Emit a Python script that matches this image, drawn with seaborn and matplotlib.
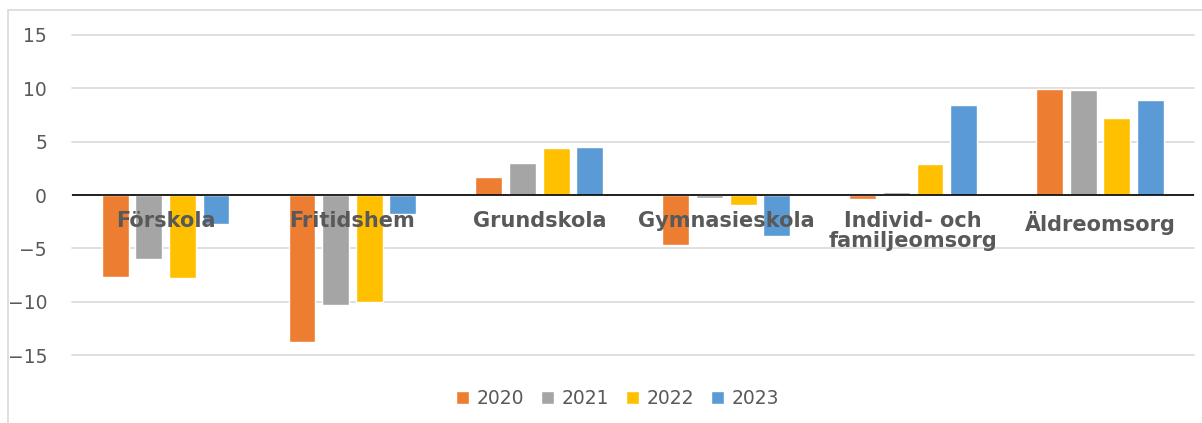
import pandas as pd
import seaborn as sns
import matplotlib.pyplot as plt
from matplotlib.patches import Rectangle

# data
categories = ['Förskola', 'Fritidshem', 'Grundskola', 'Gymnasieskola',
              'Individ- och\nfamiljeomsorg', 'Äldreomsorg']
years = ['2020', '2021', '2022', '2023']
v2020 = [-7.7, -13.8, 1.7, -4.65, -0.35, 9.95]
v2021 = [-6.0, -10.3, 2.95, -0.25, 0.3, 9.85]
v2022 = [-7.8, -10.0, 4.4, -0.95, 2.9, 7.2]
v2023 = [-2.7, -1.8, 4.5, -3.85, 8.4, 8.9]
colors = ['#ED7D31', '#A5A5A5', '#FFC000', '#5B9BD5']

rows = []
for year, vals in zip(years, [v2020, v2021, v2022, v2023]):
    for cat, v in zip(categories, vals):
        rows.append({'kategori': cat, 'år': year, 'värde': v})
df = pd.DataFrame(rows)

sns.set_style('white')
plt.rcParams['font.family'] = ['DejaVu Sans']

fig = plt.figure(figsize=(12.02, 4.23), dpi=100)
ax = fig.add_axes([0.06, 0.16, 0.933, 0.758])

sns.barplot(data=df, x='kategori', y='värde', hue='år', palette=colors,
            order=categories, hue_order=years, width=0.72, gap=0.2,
            saturation=1, errorbar=None, ax=ax)

ax.set_ylim(-15, 15)
ax.set_yticks(range(-15, 20, 5))
ax.set_xlim(-0.5, len(categories) - 0.5)
ax.yaxis.grid(True, color='#d9d9d9', linewidth=1.2)
for gl in ax.get_ygridlines():
    gl.set_clip_on(False)
ax.set_axisbelow(True)
ax.axhline(0, color='black', linewidth=1.2, zorder=3)
for s in ax.spines.values():
    s.set_visible(False)
ax.set_xticks([])
ax.set_xlabel('')
ax.set_ylabel('')
ax.tick_params(axis='y', length=0, labelsize=13.5, labelcolor='#595959', pad=18)

# category labels sit inside the plot just under the zero line
for i, cat in enumerate(categories):
    ax.text(i, -1.5, cat, ha='center', va='top', fontsize=15,
            fontweight='heavy', color='#595959', linespacing=1.0, zorder=4)

handles, labels = ax.get_legend_handles_labels()
ax.legend(handles, labels, loc='center', bbox_to_anchor=(0.486, -0.135),
          ncol=4, frameon=False, fontsize=13.5, labelcolor='#595959',
          handlelength=0.7, handleheight=0.7, handletextpad=0.4,
          columnspacing=0.9)

# light border around the chart area
fig.patches.append(Rectangle((7.5 / 1202, -0.05), 1.1, 1 - 10.5 / 423 + 0.05,
                             transform=fig.transFigure, fill=False,
                             edgecolor='#d9d9d9', linewidth=1.2))

fig.savefig('out.png', dpi=100)
